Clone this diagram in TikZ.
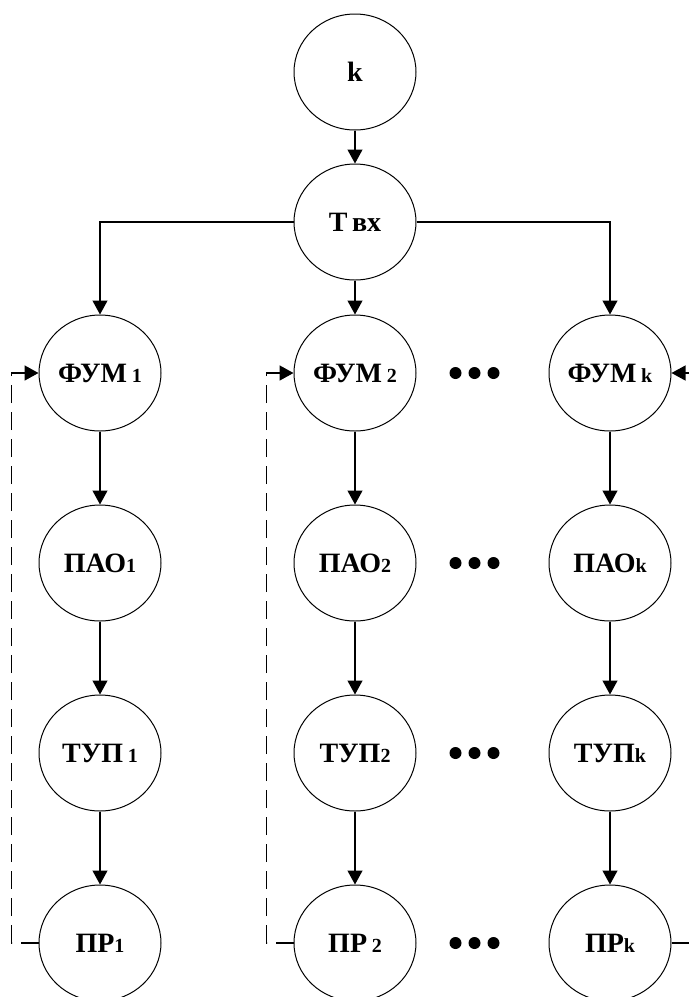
\documentclass[tikz,border=0pt]{standalone}
\usepackage{fontspec}
\setmainfont{Liberation Serif}
\usepackage{tikz}
\usetikzlibrary{arrows.meta,shapes.geometric}

\newcommand{\idx}[1]{{\fontsize{20}{20}\selectfont #1}}

\tikzset{
  blk/.style={draw, ellipse, line width=1pt, minimum width=122pt, minimum height=116pt,
    inner sep=0pt, font=\fontsize{28}{28}\selectfont\bfseries},
  flow/.style={->, line width=1.2pt},
  back/.style={line width=1.7pt, dash pattern=on 18pt off 9pt}
}

\begin{document}
\begin{tikzpicture}[>={Triangle[length=14pt,width=15pt]}, x=1pt, y=-1pt]
\useasboundingbox (0,0) rectangle (689,997);

\node [blk] (k) at (355,72) {k};
\node [blk, below of=k, node distance=150pt] (Tvx) {Т\,вх};

% columns
\node [blk] (F1) at (100,373) {ФУМ\,\idx{1}};
\node [blk, right of=F1, node distance=255pt] (F2) {ФУМ\,\idx{2}};
\node [blk, right of=F2, node distance=255pt] (Fk) {ФУМ\,\idx{k}};

\node [blk, below of=F1, node distance=190pt] (A1) {ПАО\idx{1}};
\node [blk, below of=F2, node distance=190pt] (A2) {ПАО\idx{2}};
\node [blk, below of=Fk, node distance=190pt] (Ak) {ПАО\idx{k}};

\node [blk, below of=A1, node distance=190pt] (T1) {ТУП\,\idx{1}};
\node [blk, below of=A2, node distance=190pt] (T2) {ТУП\idx{2}};
\node [blk, below of=Ak, node distance=190pt] (Tk) {ТУП\idx{k}};

\node [blk, below of=T1, node distance=190pt] (P1) {ПР\idx{1}};
\node [blk, below of=T2, node distance=190pt] (P2) {ПР\,\idx{2}};
\node [blk, below of=Tk, node distance=190pt] (Pk) {ПР\idx{k}};

\draw [flow] (k) -- (Tvx);
\draw [flow] (Tvx) -| (F1);
\draw [flow] (Tvx) -- (F2);
\draw [flow] (Tvx) -| (Fk);

\foreach \c in {1,2,k} {
  \draw [flow] (F\c) -- (A\c);
  \draw [flow] (A\c) -- (T\c);
  \draw [flow] (T\c) -- (P\c);
}

% feedback
\draw [back, ->] (P1.west) -- ++(-27,0) |- (F1.west);
\draw [back, ->] (P2.west) -- ++(-27,0) |- (F2.west);
\coordinate (eF) at (689,373);
\coordinate (eP) at (689,943);
\draw [flow] (eF) -- (Fk.east);
\draw [line width=1.2pt] (Pk.east) -- (eP);

% dots
\foreach \r in {F,A,T,P}
  \foreach \dx in {39,58,77}
    \fill ([xshift=\dx pt]\r2.east) circle (6pt);
\end{tikzpicture}
\end{document}
